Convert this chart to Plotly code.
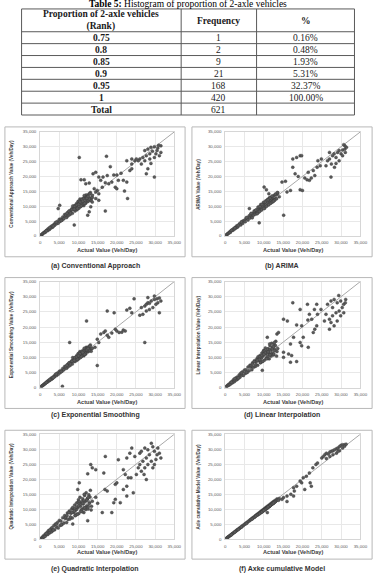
import plotly.graph_objects as go

W, H = 384, 576

# ---------------- Table data ----------------
TABLE_TITLE = "<b>Table 5:</b> Histogram of proportion of 2-axle vehicles"
TABLE_HEADERS = ["Proportion of 2-axle vehicles<br>(Rank)", "Frequency", "%"]
RANK = ["0.75", "0.8", "0.85", "0.9", "0.95", "1", "Total"]
FREQ = ["1", "2", "9", "21", "168", "420", "621"]
PCT = ["0.16%", "0.48%", "1.93%", "5.31%", "32.37%", "100.00%", ""]

# ---------------- Scatter panel labels ----------------
PANEL_CAPTIONS = ["(a) Conventional Approach", "(b) ARIMA", "(c) Exponential Smoothing",
                  "(d) Linear Interpolation", "(e) Quadratic Interpolation", "(f) Axke cumulative Model"]
Y_TITLES = ["Conventional Approach Value (Veh/Day)", "ARIMA Value (Veh/Day)",
            "Exponential Smoothing Value (Veh/Day)", "Linear Interpolation Value (Veh/Day)",
            "Quadratic Interpolation Value (Veh/Day)", "Axle cumulative Model Value (Veh/Day)"]
X_TITLE = "Actual Value (Veh/Day)"
AXIS_TICKS = [0, 5000, 10000, 15000, 20000, 25000, 30000, 35000]
DIAG = [0, 35000]

# ---------------- Scatter data (thousand veh/day) ----------------
ACTUAL_DENSE_K = [
    0.2, 0.4, 0.5, 0.7, 0.8, 1.0, 1.2, 1.3, 1.5, 1.7,
    1.9, 2.0, 2.2, 2.4, 2.6, 2.8, 3.0, 3.1, 3.3, 3.6,
    3.8, 4.0, 4.3, 4.5, 4.7, 5.0, 5.2, 5.4, 5.7, 5.9,
    6.2, 6.4, 6.6, 6.9, 7.1, 7.3, 7.6, 7.8, 8.0, 8.2,
    8.4, 8.6, 8.8, 9.0, 9.1, 9.3, 9.5, 9.6, 9.8, 10.0,
    10.1, 10.3, 10.4, 10.6, 10.8, 10.9, 11.1, 11.2, 11.4, 11.6,
    11.7, 11.9, 12.0, 12.2, 12.4, 12.5, 12.7, 12.9, 13.1, 13.4,
    8.5, 9.2, 9.9, 10.5, 11.0, 11.5, 12.1, 12.6, 13.0, 13.3,
    9.4, 10.2, 10.7, 11.3, 11.8, 12.3, 9.0, 9.7, 10.4, 11.4,
    12.8, 7.5, 6.7, 5.5, 4.2, 3.4, 2.5, 1.6, 7.0, 8.3,
    10.9, 11.6, 12.2, 9.5, 10.0, 8.9, 11.1, 12.5, 13.6, 7.9]

PRED_A_DENSE_K = [
    0.3, 0.4, 0.6, 0.8, 0.9, 1.2, 1.3, 1.2, 1.7, 1.8,
    2.2, 1.8, 2.5, 2.2, 2.5, 3.1, 2.8, 3.4, 3.0, 3.9,
    3.6, 4.5, 4.1, 4.9, 4.3, 5.6, 4.9, 5.7, 5.3, 6.4,
    5.8, 7.2, 6.6, 6.2, 7.8, 6.8, 8.4, 7.2, 8.5, 9.1,
    7.6, 9.5, 8.9, 10.2, 8.4, 9.9, 10.9, 8.8, 10.4, 11.6,
    9.3, 11.3, 12.4, 9.9, 11.8, 10.5, 12.6, 11.6, 10.2, 13.1,
    12.5, 11.0, 13.8, 11.9, 13.4, 11.6, 14.1, 12.8, 14.6, 12.6,
    10.1, 9.0, 11.6, 11.4, 10.4, 13.6, 13.1, 12.0, 14.2, 11.8,
    10.3, 11.7, 10.1, 12.4, 11.3, 13.2, 9.9, 9.2, 11.4, 10.9,
    12.4, 8.3, 7.1, 5.2, 4.6, 3.3, 2.8, 1.7, 7.6, 8.9,
    12.2, 11.0, 12.7, 10.4, 10.6, 9.0, 11.7, 13.3, 13.0, 7.7]
PRED_B_DENSE_K = [
    0.3, 0.4, 0.6, 0.8, 0.9, 1.1, 1.4, 1.2, 1.7, 1.9,
    2.1, 1.9, 2.5, 2.3, 2.9, 2.7, 3.4, 3.0, 3.1, 3.9,
    4.2, 3.7, 4.8, 4.2, 5.1, 5.3, 4.8, 5.9, 6.1, 5.4,
    6.8, 6.0, 7.2, 6.4, 7.6, 7.0, 8.2, 7.3, 8.6, 7.7,
    9.1, 8.0, 9.6, 8.6, 9.9, 8.9, 10.4, 9.2, 10.6, 10.9,
    9.6, 11.2, 10.0, 11.5, 10.2, 11.9, 10.6, 12.0, 11.0, 12.4,
    11.2, 12.8, 11.5, 13.1, 12.0, 13.5, 12.3, 13.8, 12.6, 14.0,
    9.7, 10.6, 11.3, 11.8, 12.3, 12.9, 13.4, 12.0, 14.1, 12.5,
    8.7, 9.3, 10.0, 10.5, 11.0, 11.6, 9.9, 10.5, 11.4, 12.5,
    12.0, 8.4, 7.6, 6.2, 4.7, 3.6, 2.7, 1.9, 6.1, 7.5,
    11.9, 12.7, 11.4, 10.6, 9.2, 8.2, 12.2, 11.7, 14.5, 8.7]
PRED_C_DENSE_K = [
    0.3, 0.4, 0.6, 0.7, 0.9, 1.1, 1.3, 1.3, 1.6, 1.8,
    2.1, 1.9, 2.4, 2.3, 2.5, 3.0, 2.8, 3.3, 3.1, 3.8,
    3.6, 4.4, 4.0, 4.8, 4.4, 5.4, 4.9, 5.6, 5.4, 6.3,
    5.9, 7.0, 6.5, 6.4, 7.6, 6.9, 8.2, 7.3, 8.4, 8.8,
    7.8, 9.2, 8.7, 9.8, 8.6, 9.8, 10.5, 9.0, 10.3, 11.1,
    9.5, 11.0, 11.9, 10.0, 11.5, 10.6, 12.2, 11.5, 10.5, 12.6,
    12.2, 11.1, 13.3, 11.9, 13.1, 11.8, 13.6, 12.8, 14.1, 12.8,
    9.9, 9.3, 11.2, 11.3, 10.6, 13.0, 12.9, 12.1, 13.7, 12.0,
    10.0, 11.4, 10.2, 12.0, 11.3, 12.8, 9.8, 9.4, 11.2, 11.0,
    12.3, 8.1, 7.0, 5.3, 4.5, 3.3, 2.7, 1.7, 7.4, 8.7,
    11.9, 11.0, 12.5, 10.2, 10.5, 9.0, 11.6, 12.9, 13.0, 7.8]
PRED_D_DENSE_K = [
    0.3, 0.4, 0.6, 0.6, 1.0, 0.9, 1.4, 1.1, 1.8, 1.5,
    2.2, 1.7, 2.7, 2.0, 2.4, 3.2, 2.6, 3.5, 2.9, 4.2,
    3.4, 4.7, 4.1, 5.2, 4.0, 5.8, 4.7, 5.9, 5.0, 6.8,
    5.6, 7.4, 6.8, 5.9, 8.2, 6.7, 8.9, 7.0, 8.6, 9.5,
    7.4, 9.8, 8.9, 10.6, 8.2, 9.8, 11.4, 8.6, 10.5, 12.3,
    9.0, 11.2, 13.1, 9.7, 11.9, 10.3, 12.8, 11.6, 9.5, 13.8,
    12.3, 10.4, 14.6, 11.5, 13.4, 10.8, 14.2, 12.5, 15.3, 11.9,
    10.2, 8.3, 12.0, 11.2, 9.6, 14.4, 12.9, 11.1, 13.9, 10.4,
    9.9, 12.0, 9.5, 12.6, 11.0, 13.3, 10.2, 8.7, 11.5, 10.8,
    12.2, 8.6, 7.3, 5.0, 4.9, 3.2, 3.0, 1.8, 7.8, 9.1,
    12.7, 10.8, 12.8, 10.6, 11.0, 9.3, 11.8, 13.5, 12.9, 7.6]
PRED_E_DENSE_K = [
    0.3, 0.3, 0.6, 0.5, 1.1, 0.8, 1.5, 1.0, 1.9, 1.6,
    2.4, 1.6, 2.9, 2.1, 2.3, 3.5, 2.5, 3.9, 2.9, 4.6,
    3.2, 5.1, 4.0, 5.6, 3.8, 6.3, 4.6, 6.1, 4.9, 7.2,
    5.4, 7.9, 6.9, 5.6, 8.8, 6.6, 9.4, 6.8, 8.7, 10.1,
    7.1, 10.3, 8.9, 11.4, 7.9, 9.8, 12.1, 8.4, 10.6, 13.2,
    8.6, 11.4, 14.0, 9.5, 12.2, 10.0, 13.5, 11.8, 8.9, 14.6,
    12.6, 9.9, 15.5, 11.2, 13.6, 10.1, 14.8, 12.2, 16.3, 11.0,
    10.6, 7.9, 12.4, 11.0, 9.2, 15.0, 13.0, 10.9, 14.1, 9.8,
    9.9, 12.6, 9.3, 12.9, 10.7, 13.5, 10.1, 8.3, 11.6, 10.4,
    11.9, 8.9, 7.4, 4.8, 5.0, 3.1, 3.1, 1.9, 7.9, 9.0,
    12.5, 10.5, 13.1, 10.8, 11.2, 9.4, 12.0, 13.9, 12.7, 7.4]
PRED_F_DENSE_K = [
    0.25, 0.4, 0.5, 0.75, 0.8, 1.05, 1.15, 1.35, 1.45, 1.75,
    1.85, 2.05, 2.15, 2.45, 2.55, 2.85, 2.9, 3.2, 3.25, 3.65,
    3.7, 4.05, 4.2, 4.55, 4.6, 5.05, 5.1, 5.45, 5.6, 5.95,
    6.1, 6.45, 6.5, 6.95, 7.0, 7.35, 7.45, 7.85, 7.9, 8.25,
    8.3, 8.65, 8.6, 9.05, 8.9, 9.35, 9.3, 9.65, 9.55, 10.05,
    9.8, 10.35, 10.0, 10.65, 10.5, 10.95, 10.7, 11.25, 11.0, 11.65,
    11.3, 11.95, 11.6, 12.25, 11.9, 12.55, 12.3, 12.95, 12.7, 13.45,
    8.2, 9.0, 9.5, 10.2, 10.6, 11.1, 11.8, 12.2, 12.6, 13.0,
    9.0, 9.8, 10.3, 10.9, 11.4, 11.9, 8.7, 9.4, 10.0, 10.9,
    12.4, 7.3, 6.6, 5.3, 4.1, 3.3, 2.45, 1.55, 6.8, 8.1,
    10.4, 11.2, 11.8, 9.1, 9.6, 8.5, 10.8, 12.1, 13.2, 7.7]

OUT_A_X_K = [10.2, 17.3, 10.65, 11.5, 11.9, 12.8, 14.5, 13.8, 18.3, 19.2, 20.0, 17.5, 17.0, 17.9, 18.7,
             19.6, 20.0, 20.4, 21.1, 21.7, 22.0, 22.6, 22.8, 23.4, 23.9, 22.6, 23.9, 24.7, 23.9, 16.4,
             15.8, 15.3, 14.9, 15.3, 14.1, 14.5, 16.2, 17.0, 13.6, 14.5, 15.3, 13.6, 13.2, 12.8, 12.4,
             8.9, 5.1, 4.7,
             27.3, 28.1, 28.9, 29.8, 30.7, 31.5, 28.6, 27.7, 26.8, 26.0, 27.3, 28.6, 29.8, 30.2, 31.1,
             31.5, 28.9, 28.1, 27.7, 29.8, 26.4, 25.6, 25.1, 30.9, 29.3, 30.5]
OUT_A_Y_K = [26.4, 26.8, 18.9, 18.9, 17.55, 17.8, 21.4, 20.9, 23.3, 20.5, 20.5, 20.3, 17.9, 17.55, 18.1,
             16.4, 15.9, 18.7, 21.1, 18.7, 15.1, 18.1, 12.6, 22.0, 22.6, 25.3, 25.9, 25.3, 24.2, 19.8,
             18.7, 19.8, 15.3, 14.2, 15.9, 14.8, 16.4, 8.4, 13.7, 12.6, 12.0, 11.4, 9.8, 8.1, 7.0,
             3.7, 10.3, 9.2,
             28.7, 29.2, 29.8, 30.0, 29.6, 30.3, 27.6, 27.0, 26.4, 25.9, 25.3, 25.9, 26.4, 27.6, 27.0,
             28.1, 24.4, 22.6, 20.9, 19.8, 24.2, 25.3, 25.9, 30.5, 28.5, 28.7]

OUT_B_X_K = [10.07, 10.66, 11.3, 15.13, 8.8, 6.25, 14.7, 15.6, 16.0, 16.9, 17.5, 17.5, 18.5, 19.4, 19.8,
             18.1, 18.9, 19.4, 20.0, 20.6, 21.2, 21.8, 22.3, 21.5, 22.8, 23.8, 24.0, 24.9, 24.6, 23.2,
             27.4,
             26.1, 26.5, 27.0, 27.8, 28.2, 28.7, 29.1, 29.5, 30.0, 30.4, 31.0, 31.4, 31.0, 31.1, 30.4,
             29.5, 28.7, 27.5, 28.3, 30.7, 27.0, 13.5, 14.0]
OUT_B_Y_K = [16.44, 15.55, 14.2, 7.0, 4.4, 9.2, 18.1, 18.4, 14.8, 15.3, 23.1, 25.9, 26.4, 27.0, 27.0,
             20.9, 20.0, 15.55, 15.3, 19.5, 18.9, 18.7, 19.5, 21.4, 22.0, 23.1, 25.3, 25.9, 23.6, 20.3,
             19.8,
             23.6, 25.3, 25.9, 27.0, 27.6, 26.4, 28.1, 28.7, 27.6, 28.9, 29.2, 29.8, 30.3, 28.1, 27.0,
             25.3, 24.4, 24.2, 23.1, 30.7, 28.1, 14.6, 13.2]

OUT_C_X_K = [5.8, 7.7, 12.1, 14.9, 17.5, 19.3, 15.8, 16.6, 17.0, 17.5, 17.9, 18.7, 19.6, 20.0, 20.6,
             21.3, 21.7, 22.2, 14.9, 15.3, 14.3, 22.6, 23.4, 23.9, 24.5, 27.3,
             26.4, 27.3, 27.7, 28.1, 28.5, 29.0, 29.8, 30.5, 31.1, 30.7, 30.2, 29.4, 28.5, 27.7, 26.8,
             26.0, 31.5, 29.8, 31.1, 28.1]
OUT_C_Y_K = [0.44, 14.9, 22.0, 7.3, 25.3, 24.7, 17.7, 18.2, 18.7, 17.3, 16.6, 18.0, 19.3, 18.7, 18.2,
             18.3, 19.0, 18.7, 16.0, 14.9, 13.3, 25.6, 26.2, 24.7, 29.3, 14.9,
             26.4, 26.9, 27.5, 28.0, 27.8, 28.6, 29.1, 29.3, 29.6, 28.0, 27.5, 26.4, 25.8, 25.3, 24.2,
             23.9, 28.6, 30.2, 24.7, 29.7]

OUT_D_X_K = [17.5, 15.1, 16.1, 13.4, 13.8, 10.9, 12.7, 18.5, 19.8, 20.2, 19.4, 19.8, 17.7, 16.9, 16.4,
             17.2, 16.9, 18.5, 15.1, 15.1, 21.8, 23.1, 23.7, 22.4, 21.4, 23.9, 24.8, 21.5, 22.8, 23.2,
             23.7, 19.4, 21.3, 9.6,
             26.5, 27.4, 28.2, 29.0, 29.9, 30.7, 31.2, 30.3, 29.5, 28.7, 27.8, 27.0, 27.4, 28.2, 29.0,
             29.9, 30.7, 26.1, 25.7, 27.0, 31.1, 27.8, 29.4]
OUT_D_Y_K = [28.0, 22.6, 22.0, 17.7, 18.2, 16.6, 14.9, 20.7, 20.4, 16.6, 14.9, 13.8, 16.6, 14.4, 11.1,
             10.6, 8.4, 8.6, 10.0, 11.7, 24.2, 25.8, 27.5, 22.6, 22.3, 24.2, 25.8, 13.3, 18.2, 19.3,
             20.4, 25.8, 27.5, 5.7,
             27.5, 28.6, 29.1, 28.0, 28.6, 27.5, 29.1, 26.4, 25.3, 24.7, 23.7, 22.6, 21.5, 20.4, 22.0,
             23.7, 24.7, 24.2, 22.0, 19.3, 28.0, 26.4, 30.4]

OUT_E_X_K = [10.2, 9.8, 13.2, 13.6, 14.5, 12.4, 17.0, 16.6, 16.9, 17.5, 16.2, 18.7, 19.2, 19.6, 19.6,
             20.0, 20.4, 22.6, 21.7, 22.2, 23.0, 23.7, 22.6, 21.7, 22.6, 24.3, 20.9, 23.9, 23.4, 24.7,
             26.0, 25.6, 25.1, 27.7, 12.4, 8.5, 14.5, 15.0,
             26.4, 27.3, 28.1, 29.0, 29.4, 29.8, 30.5, 31.1, 31.5, 30.2, 29.0, 28.1, 27.3, 26.4, 26.8,
             27.7, 28.5, 29.4, 29.8, 30.7, 26.0, 27.1]
OUT_E_Y_K = [18.8, 16.6, 24.9, 23.8, 23.2, 21.8, 27.6, 22.1, 16.6, 16.1, 8.9, 8.9, 12.2, 13.3, 18.3,
             18.8, 26.5, 27.1, 23.2, 21.6, 20.5, 20.5, 17.7, 16.6, 14.4, 15.5, 12.2, 30.4, 28.7, 27.6,
             28.7, 23.8, 21.6, 19.9, 6.2, 5.1, 14.0, 12.0,
             29.3, 30.4, 29.8, 32.0, 30.8, 29.3, 28.2, 28.7, 27.1, 26.6, 26.0, 24.9, 23.8, 22.7, 26.0,
             27.1, 28.2, 23.8, 24.9, 30.4, 24.9, 21.6]

OUT_F_X_K = [20.6, 19.8, 22.3, 22.0, 17.7, 17.9, 16.0, 10.9, 16.0, 17.0, 17.7, 18.5, 19.4, 20.2, 21.0,
             21.8, 22.7, 23.5, 23.9, 15.1, 14.7, 14.0, 13.8,
             25.0, 25.4, 25.8, 26.2, 26.7, 27.1, 27.5, 27.9, 28.3, 28.8, 29.2, 29.6, 30.0, 30.4, 30.9,
             31.3, 30.4, 29.6, 28.8, 27.9, 27.1, 26.2, 29.2, 30.9]
OUT_F_Y_K = [16.6, 18.8, 17.7, 18.8, 14.4, 16.1, 12.6, 8.9, 14.4, 15.0, 17.2, 17.7, 19.4, 20.5, 21.0,
             22.1, 23.8, 24.9, 25.4, 13.9, 13.3, 13.6, 13.0,
             27.1, 27.6, 28.2, 28.7, 28.4, 29.1, 29.3, 29.5, 29.8, 30.2, 30.4, 30.9, 31.3, 31.5, 31.5,
             31.7, 30.4, 29.5, 28.7, 28.2, 27.6, 26.9, 29.3, 31.0]

PRED_DENSE = [PRED_A_DENSE_K, PRED_B_DENSE_K, PRED_C_DENSE_K, PRED_D_DENSE_K, PRED_E_DENSE_K, PRED_F_DENSE_K]
OUT_X = [OUT_A_X_K, OUT_B_X_K, OUT_C_X_K, OUT_D_X_K, OUT_E_X_K, OUT_F_X_K]
OUT_Y = [OUT_A_Y_K, OUT_B_Y_K, OUT_C_Y_K, OUT_D_Y_K, OUT_E_Y_K, OUT_F_Y_K]

# ---------------- Layout geometry (pixels) ----------------
TABLE_COL_X = [21, 184, 261, 361]
TABLE_ROW_Y = [7, 30, 42, 54, 66, 78, 90, 102, 114]
COL_PLOT_X = [(40, 177), (229, 367)]
ROW_PLOT_Y = [(131, 236), (282, 389), (436, 542)]
COL_BOX_X = [(4, 188), (195, 379)]
ROW_BOX_Y = [(126, 257), (278, 410), (432, 562)]
ROW_XTITLE_Y = [250, 403, 555]
ROW_CAPTION_Y = [266, 417, 572]
COL_YTITLE_X = [11, 202]
COL_CAPTION_X = [96, 287]


def px(x):
    return x / W


def py(y):
    return 1 - y / H


SANS = "Liberation Sans"
SERIF = "Liberation Serif"

fig = go.Figure()
annotations = [dict(text=TABLE_TITLE, x=px(191), y=py(2.5), xref="paper", yref="paper",
                    showarrow=False, xanchor="center", yanchor="middle",
                    font=dict(family=SERIF, size=9.5, color="black"))]
shapes = []

# ---- Table grid ----
tl = dict(color="#5a5a5a", width=1)
for yv in TABLE_ROW_Y:
    shapes.append(dict(type="line", xref="paper", yref="paper", x0=px(TABLE_COL_X[0]), x1=px(TABLE_COL_X[-1]),
                       y0=py(yv), y1=py(yv), line=tl))
for xv in TABLE_COL_X:
    shapes.append(dict(type="line", xref="paper", yref="paper", x0=px(xv), x1=px(xv),
                       y0=py(TABLE_ROW_Y[0]), y1=py(TABLE_ROW_Y[-1]), line=tl))

table_cols = [[f"<b>{TABLE_HEADERS[0]}</b>"] + [f"<b>{r}</b>" for r in RANK],
              [f"<b>{TABLE_HEADERS[1]}</b>"] + FREQ,
              [f"<b>{TABLE_HEADERS[2]}</b>"] + PCT]
for ci, col in enumerate(table_cols):
    cx = (TABLE_COL_X[ci] + TABLE_COL_X[ci + 1]) / 2
    for ri, txt in enumerate(col):
        if txt == "":
            continue
        cy = (TABLE_ROW_Y[ri] + TABLE_ROW_Y[ri + 1]) / 2 + 0.5
        annotations.append(dict(text=txt, x=px(cx), y=py(cy), xref="paper", yref="paper",
                                showarrow=False, xanchor="center", yanchor="middle",
                                font=dict(family=SERIF, size=9.5, color="#1a1a1a")))

layout_axes = {}
for i in range(6):
    r, c = divmod(i, 2)
    n = i + 1
    xs = "" if n == 1 else str(n)
    x0, x1 = COL_PLOT_X[c]
    y0, y1 = ROW_PLOT_Y[r]
    axis_common = dict(range=[0, 35000], tickvals=AXIS_TICKS,
                       ticktext=[f"{v:,}" for v in AXIS_TICKS],
                       showgrid=True, gridcolor="#e8e8e8", gridwidth=0.7,
                       zeroline=False, showline=True, mirror=True,
                       linecolor="#d6d6d6", linewidth=1, ticks="",
                       ticklabelstandoff=2,
                       tickfont=dict(family=SANS, size=4.4, color="#5a5a5a"),
                       fixedrange=True)
    layout_axes[f"xaxis{xs}"] = dict(domain=[px(x0), px(x1)], anchor=f"y{xs}", **axis_common)
    layout_axes[f"yaxis{xs}"] = dict(domain=[py(y1), py(y0)], anchor=f"x{xs}", **axis_common)

    fig.add_trace(go.Scatter(x=DIAG, y=DIAG, mode="lines",
                             line=dict(color="#a8a8a8", width=1),
                             xaxis=f"x{xs}", yaxis=f"y{xs}", hoverinfo="skip", showlegend=False))
    xs_vals = [v * 1000 for v in ACTUAL_DENSE_K + OUT_X[i]]
    ys_vals = [v * 1000 for v in PRED_DENSE[i] + OUT_Y[i]]
    fig.add_trace(go.Scatter(x=xs_vals, y=ys_vals, mode="markers",
                             marker=dict(size=3.0, color="#5a5a5a",
                                         line=dict(color="#383838", width=0.4)),
                             xaxis=f"x{xs}", yaxis=f"y{xs}", showlegend=False))

    bx0, bx1 = COL_BOX_X[c]
    by0, by1 = ROW_BOX_Y[r]
    shapes.append(dict(type="rect", xref="paper", yref="paper",
                       x0=px(bx0), x1=px(bx1), y0=py(by1), y1=py(by0),
                       line=dict(color="#b8b8b8", width=1), layer="below"))

    annotations.append(dict(text=f"<b>{X_TITLE}</b>", x=px((x0 + x1) / 2), y=py(ROW_XTITLE_Y[r]),
                            xref="paper", yref="paper", showarrow=False,
                            xanchor="center", yanchor="middle",
                            font=dict(family=SANS, size=5.6, color="#404040")))
    annotations.append(dict(text=f"<b>{Y_TITLES[i]}</b>", x=px(COL_YTITLE_X[c]), y=py((y0 + y1) / 2),
                            xref="paper", yref="paper", showarrow=False, textangle=-90,
                            xanchor="center", yanchor="middle",
                            font=dict(family=SANS, size=4.6, color="#404040")))
    annotations.append(dict(text=f"<b>{PANEL_CAPTIONS[i]}</b>", x=px(COL_CAPTION_X[c]),
                            y=py(ROW_CAPTION_Y[r]), xref="paper", yref="paper", showarrow=False,
                            xanchor="center", yanchor="middle",
                            font=dict(family=SANS, size=7, color="#333333")))

fig.update_layout(width=W, height=H, margin=dict(l=0, r=0, t=0, b=0),
                  paper_bgcolor="white", plot_bgcolor="white",
                  showlegend=False, annotations=annotations, shapes=shapes,
                  **layout_axes)

fig.write_html("out.html")
